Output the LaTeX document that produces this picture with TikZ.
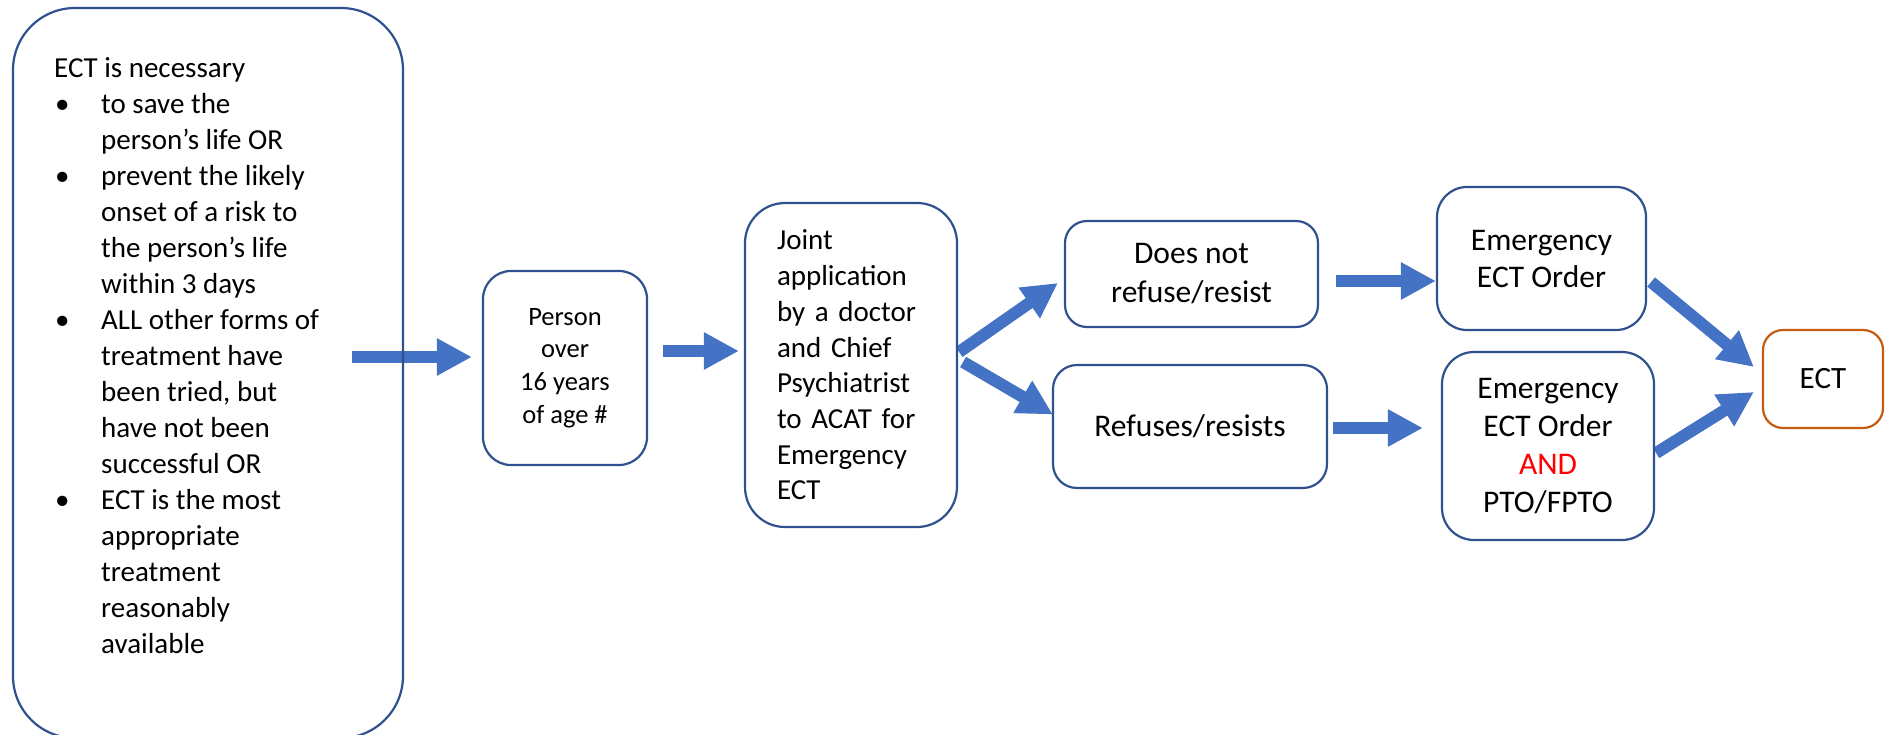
\documentclass[tikz,border=0pt]{standalone}
\usepackage{fontspec}
\setmainfont{Carlito}
\usetikzlibrary{arrows.meta}

\definecolor{boxblue}{HTML}{2F528F}
\definecolor{arrowblue}{HTML}{4472C4}
\definecolor{ectbrown}{HTML}{C55A11}

\pgfdeclarelayer{background}
\pgfsetlayers{background,main}

\newcommand{\critbul}{\makebox[47pt][l]{\hspace{1pt}\textbullet}}
\newcommand{\critind}{\hspace*{47pt}}

\begin{document}
\begin{tikzpicture}[x=1pt, y=-1pt,
  box/.style={draw=boxblue, line width=2.2pt, rounded corners=#1, inner sep=0pt},
  box/.default=24pt,
  flow/.style={draw=arrowblue, line width=12pt, -{Triangle[width=35pt,length=35pt]}}]
\useasboundingbox (0,0) rectangle (1885,734);

% criteria box
\node[box=62pt, minimum width=390pt, minimum height=730pt] (crit) at (208,373) {};
\node[anchor=north west, inner sep=0pt, align=left, font=\fontsize{29}{36}\selectfont] (critlist) at (54,52)
  {\strut ECT is necessary\\
   \critbul to save the\\
   \critind person’s life OR\\
   \critbul prevent the likely\\
   \critind onset of a risk to\\
   \critind the person’s life\\
   \critind within 3 days\\
   \critbul ALL other forms of\\
   \critind treatment have\\
   \critind been tried, but\\
   \critind have not been\\
   \critind successful OR\\
   \critbul ECT is the most\\
   \critind appropriate\\
   \critind treatment\\
   \critind reasonably\\
   \critind available};

% steps
\node[box=28pt, minimum width=164pt, minimum height=194pt, align=center, font=\fontsize{26.5}{32.7}\selectfont] (age) at (565,368) {Person\\over\\16 years\\of age \#};
\node[box=40pt, minimum width=212pt, minimum height=324pt, text width=148pt, inner xsep=32pt, align=left, font=\fontsize{29}{35.7}\selectfont] (joint) at (851,365) {Joint\\application\\by a doctor\\and Chief\\Psychiatrist\\to ACAT for\\Emergency\\ECT};
\node[box=22pt, minimum width=253pt, minimum height=106pt, align=center, font=\fontsize{31.5}{39}\selectfont] (nores) at (1191.5,274) {Does not\\refuse/resist};
\node[box=24pt, minimum width=274pt, minimum height=123pt, font=\fontsize{31.5}{38}\selectfont] (res) at (1190,426.5) {Refuses/resists};
\node[box=30pt, minimum width=209pt, minimum height=143pt, align=center, font=\fontsize{31.5}{37}\selectfont] (eoa) at (1541.5,258.5) {Emergency\\ECT Order};
\node[box=32pt, minimum width=212pt, minimum height=188pt, align=center, font=\fontsize{31.5}{38}\selectfont] (eob) at (1548,446) {Emergency\\ECT Order\\\textcolor{red}{AND}\\PTO/FPTO};
\node[box=20pt, draw=ectbrown, minimum width=120pt, minimum height=98pt, font=\fontsize{31}{37}\selectfont] (ect) at (1823,379) {ECT};

% arrows
\begin{pgfonlayer}{background}
\draw[flow] ([shift={(-52,-16)}]crit.east) -- ([shift={(-10,-11)}]age.west);
\draw[flow] ([shift={(15,-17)}]age.east) -- ([shift={(-5,-14)}]joint.west);
\draw[flow] ([shift={(1,-13)}]joint.east) -- ([shift={(-6,9)}]nores.west);
\draw[flow] ([shift={(5,-3)}]joint.east) -- ([shift={(1,-12)}]res.west);
\draw[flow] ([shift={(17,7)}]nores.east) -- ([shift={(0,22.5)}]eoa.west);
\draw[flow] ([shift={(5,1.5)}]res.east) -- ([shift={(-18,-18)}]eob.west);
\draw[flow] ([shift={(4,23.5)}]eoa.east) -- ([shift={(-8,-12)}]ect.west);
\draw[flow] ([shift={(1,7)}]eob.east) -- ([shift={(-8,13)}]ect.west);
\end{pgfonlayer}
\end{tikzpicture}
\end{document}
